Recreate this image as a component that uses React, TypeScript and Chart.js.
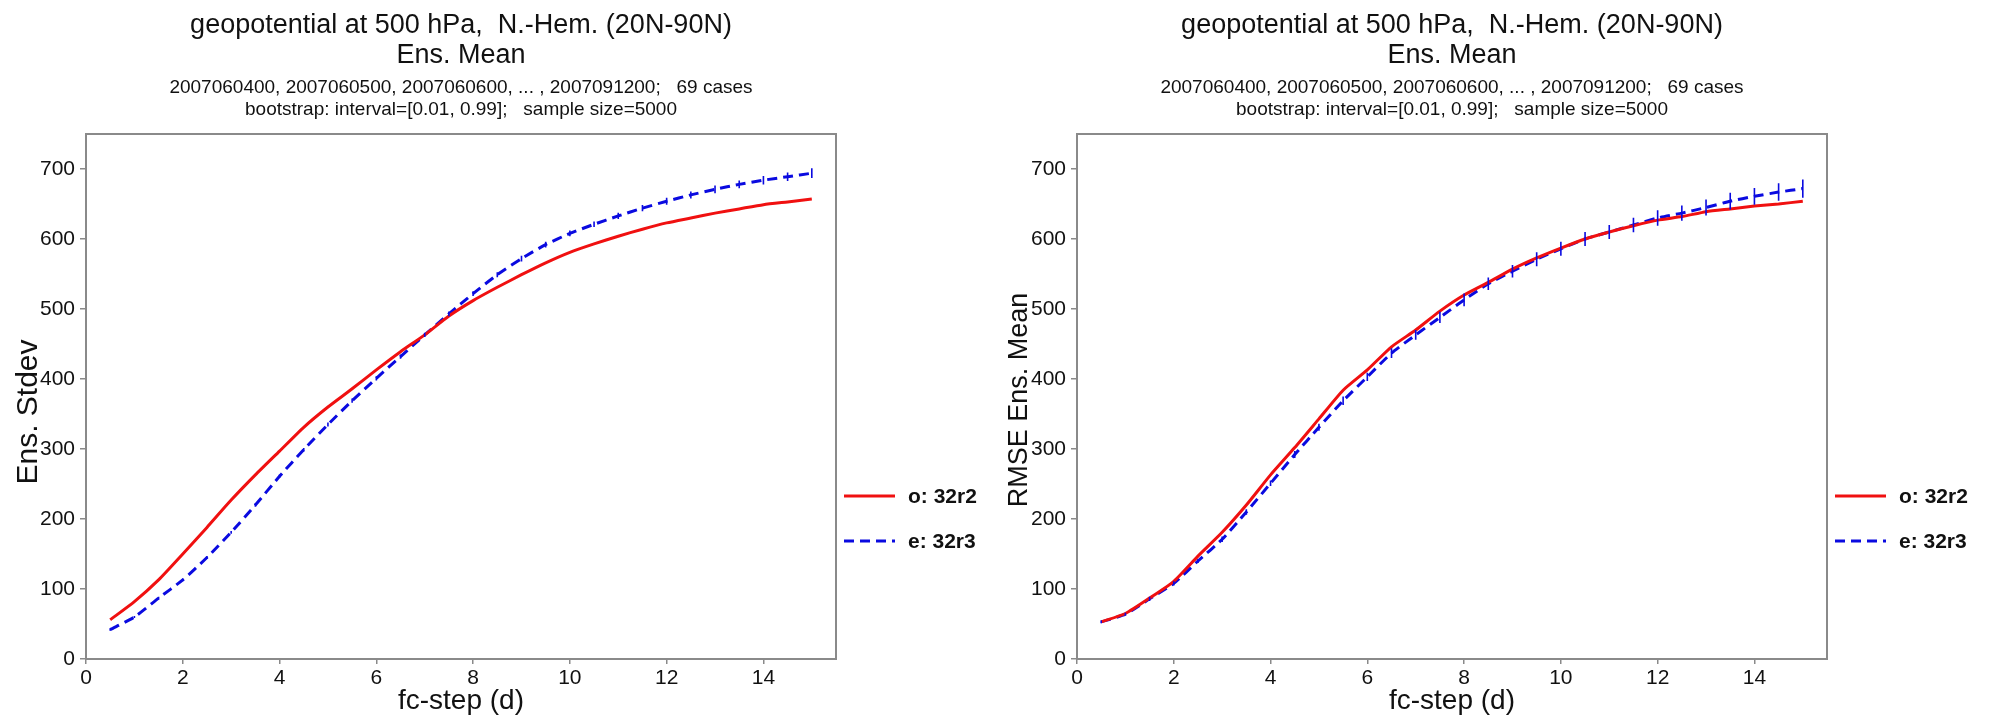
import React, { useEffect, useRef } from "react";
import { Chart, registerables } from "chart.js";

Chart.register(...registerables);

// ---------------- data ----------------
const fcSteps = [0.5, 1, 1.5, 2, 2.5, 3, 3.5, 4, 4.5, 5, 5.5, 6, 6.5, 7, 7.5, 8, 8.5, 9, 9.5, 10, 10.5, 11, 11.5, 12, 12.5, 13, 13.5, 14, 14.5, 15];

const stdevO32r2 = [56, 82, 113, 150, 188, 227, 263, 297, 331, 360, 386, 413, 439, 463, 490, 512, 531, 549, 566, 581, 593, 604, 614, 623, 630, 637, 643, 649, 653, 657];
const stdevE32r3 = [42, 60, 87, 113, 145, 181, 220, 261, 299, 335, 369, 401, 432, 463, 493, 522, 549, 572, 592, 608, 621, 633, 644, 654, 663, 671, 678, 684, 689, 694];
const stdevE32r3Err = [1.5, 1.5, 2, 2, 2, 2, 2.5, 2.5, 2.5, 3, 3, 3, 3, 3, 3.5, 3.5, 3.5, 4, 4, 4, 4, 4.5, 4.5, 5, 5, 5.5, 5.5, 6, 6, 7];

const rmseO32r2 = [53, 65, 87, 111, 147, 181, 220, 263, 302, 343, 384, 413, 446, 470, 497, 520, 538, 557, 573, 587, 600, 610, 619, 627, 632, 639, 643, 647, 650, 654];
const rmseE32r3 = [53, 64, 86, 108, 140, 171, 210, 251, 292, 331, 369, 403, 437, 463, 488, 513, 536, 554, 571, 586, 600, 610, 620, 630, 637, 645, 654, 661, 667, 672];
const rmseE32r3Err = [2, 2, 3, 3, 3, 4, 4, 4, 5, 5, 6, 6, 7, 7, 8, 9, 9, 9, 10, 10, 10, 10, 10.5, 11, 11, 11.5, 12, 12, 12.5, 13];

const xTickValues = [0, 2, 4, 6, 8, 10, 12, 14];
const yTickValues = [0, 100, 200, 300, 400, 500, 600, 700];

const seriesLabels = ["o: 32r2", "e: 32r3"];
const titleLines = [
  "geopotential at 500 hPa,  N.-Hem. (20N-90N)",
  "Ens. Mean",
  "2007060400, 2007060500, 2007060600, ... , 2007091200;   69 cases",
  "bootstrap: interval=[0.01, 0.99];   sample size=5000",
];
const xAxisTitle = "fc-step (d)";
const yAxisTitles = ["Ens. Stdev", "RMSE Ens. Mean"];

// ---------------- styling ----------------
const FONT = "'Liberation Sans', Arial, Helvetica, sans-serif";
const RED = "#f01010";
const BLUE = "#0a0ae0";
const BOX = "#8a8a8a";
const H = 718;
const TOP = 134;
const BOTTOM = 659;

const decorPlugin = {
  id: "decor",
  afterDatasetsDraw(chart: any) {
    const ctx = chart.ctx;
    const ys = chart.scales.y;
    chart.data.datasets.forEach((ds: any, i: number) => {
      const errs = ds.errorBars;
      if (!errs) return;
      const meta = chart.getDatasetMeta(i);
      ctx.save();
      ctx.strokeStyle = ds.borderColor;
      ctx.lineWidth = 1.6;
      ctx.beginPath();
      meta.data.forEach((pt: any, j: number) => {
        const v = ds.data[j].y;
        ctx.moveTo(pt.x, ys.getPixelForValue(v - errs[j]));
        ctx.lineTo(pt.x, ys.getPixelForValue(v + errs[j]));
      });
      ctx.stroke();
      ctx.restore();
    });
  },
  afterDraw(chart: any, _args: any, opts: any) {
    const ctx = chart.ctx;
    const ca = chart.chartArea;
    ctx.save();
    // plot box
    ctx.strokeStyle = BOX;
    ctx.lineWidth = 2;
    ctx.strokeRect(ca.left, ca.top, ca.right - ca.left, ca.bottom - ca.top);

    const cx = (ca.left + ca.right) / 2;
    ctx.fillStyle = "#111";
    ctx.textAlign = "center";
    ctx.textBaseline = "middle";
    // titles
    ctx.font = `27px ${FONT}`;
    ctx.fillText(titleLines[0], cx, 26);
    ctx.fillText(titleLines[1], cx, 56);
    ctx.font = `19px ${FONT}`;
    ctx.fillText(titleLines[2], cx, 88);
    ctx.fillText(titleLines[3], cx, 110);

    // x title
    ctx.font = `28px ${FONT}`;
    ctx.fillText(xAxisTitle, cx, 701);

    // y title (overlaps tick labels as in the reference)
    ctx.save();
    ctx.translate(opts.yTitleX, opts.yTitleY);
    ctx.rotate(-Math.PI / 2);
    ctx.font = `${opts.yTitleSize}px ${FONT}`;
    ctx.fillText(opts.yTitle, 0, 0);
    ctx.restore();

    // legend
    const lx0 = ca.right + 8;
    const lx1 = ca.right + 59;
    const tx = ca.right + 72;
    const rows = [496, 541];
    chart.data.datasets.forEach((ds: any, i: number) => {
      ctx.save();
      ctx.strokeStyle = ds.borderColor;
      ctx.lineWidth = 3;
      ctx.setLineDash(ds.borderDash || []);
      ctx.beginPath();
      ctx.moveTo(lx0, rows[i]);
      ctx.lineTo(lx1, rows[i]);
      ctx.stroke();
      ctx.restore();
      ctx.font = `bold 21px ${FONT}`;
      ctx.textAlign = "left";
      ctx.fillStyle = "#111";
      ctx.fillText(ds.label, tx, rows[i] + 1);
    });
    ctx.restore();
  },
};

function makeConfig(o: number[], e: number[], eErr: number[], width: number, left: number, right: number, yTitle: string, yTitleX: number, yTitleY: number, yTitleSize: number) {
  return {
    type: "line" as const,
    data: {
      datasets: [
        {
          label: seriesLabels[0],
          data: fcSteps.map((x, i) => ({ x, y: o[i] })),
          borderColor: RED,
          borderWidth: 3,
          pointRadius: 0,
          tension: 0.2,
          fill: false,
        },
        {
          label: seriesLabels[1],
          data: fcSteps.map((x, i) => ({ x, y: e[i] })),
          borderColor: BLUE,
          borderWidth: 3,
          borderDash: [10, 6],
          pointRadius: 0,
          tension: 0.2,
          fill: false,
          errorBars: eErr,
        },
      ],
    },
    options: {
      responsive: false,
      maintainAspectRatio: false,
      animation: false,
      layout: { padding: { left: 0, top: TOP, right: width - right, bottom: 0 } },
      plugins: {
        legend: { display: false },
        tooltip: { enabled: false },
        title: { display: false },
        decor: { yTitle, yTitleX, yTitleY, yTitleSize },
      },
      scales: {
        x: {
          type: "linear",
          min: 0,
          max: 15.5,
          afterBuildTicks: (s: any) => {
            s.ticks = xTickValues.map((v) => ({ value: v }));
          },
          afterFit: (s: any) => {
            s.height = H - BOTTOM;
          },
          ticks: {
            font: { family: FONT, size: 21 },
            color: "#111",
            padding: 2,
            maxRotation: 0,
            autoSkip: false,
          },
          grid: { drawOnChartArea: false, drawTicks: true, tickLength: 5, color: BOX, lineWidth: 1.5 },
          border: { display: false },
        },
        y: {
          type: "linear",
          min: 0,
          max: 750,
          afterBuildTicks: (s: any) => {
            s.ticks = yTickValues.map((v) => ({ value: v }));
          },
          afterFit: (s: any) => {
            s.width = left;
          },
          ticks: {
            font: { family: FONT, size: 21 },
            color: "#111",
            padding: 5,
            autoSkip: false,
          },
          grid: { drawOnChartArea: false, drawTicks: true, tickLength: 6, color: BOX, lineWidth: 1.5 },
          border: { display: false },
        },
      },
    },
    plugins: [decorPlugin],
  };
}

function Panel(props: { x: number; width: number; config: any }) {
  const ref = useRef<HTMLCanvasElement | null>(null);
  useEffect(() => {
    if (!ref.current) return;
    const chart = new Chart(ref.current, props.config);
    return () => chart.destroy();
  }, []);
  return (
    <canvas
      ref={ref}
      width={props.width}
      height={H}
      style={{ position: "absolute", left: props.x, top: 0, width: props.width, height: H, display: "block" }}
    />
  );
}

export default function App() {
  const leftCfg = makeConfig(stdevO32r2, stdevE32r3, stdevE32r3Err, 995, 86, 836, yAxisTitles[0], 29, 412, 30);
  const rightCfg = makeConfig(rmseO32r2, rmseE32r3, rmseE32r3Err, 996, 82, 832, yAxisTitles[1], 25, 400, 27);
  return (
    <div style={{ position: "fixed", left: 0, top: 0, width: 1991, height: H, background: "#fff", overflow: "hidden" }}>
      <Panel x={0} width={995} config={leftCfg} />
      <Panel x={995} width={996} config={rightCfg} />
    </div>
  );
}
